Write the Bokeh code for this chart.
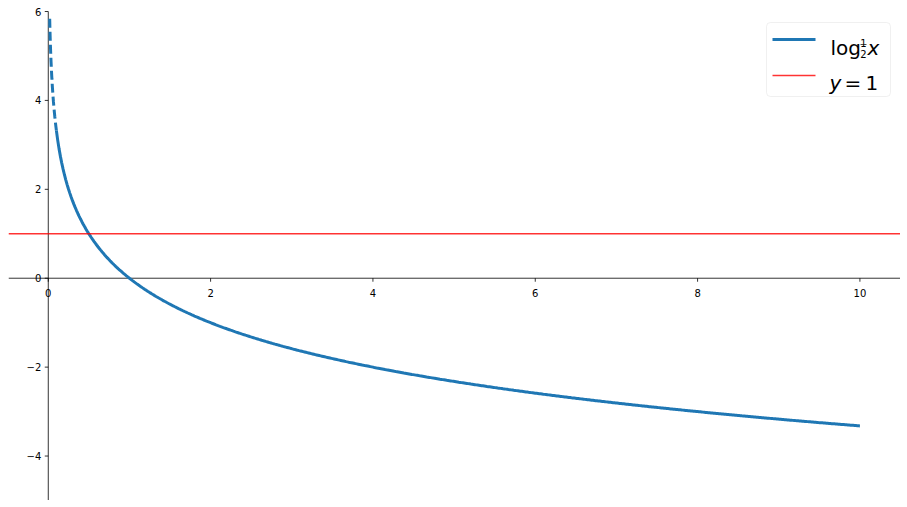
import numpy as np
from bokeh.plotting import figure
from bokeh.models import Range1d, Span, BoxAnnotation
from bokeh.core.properties import value
from bokeh.embed import file_html
from bokeh.resources import INLINE

# ---- data ----
log_base = 0.5
x_start = 0.0175
x_dash_end = 0.1
x_end = 10.0
hline_y = 1
x_ticks = [0, 2, 4, 6, 8, 10]
x_tick_labels = ["0", "2", "4", "6", "8", "10"]
y_ticks = [-4, -2, 0, 2, 4, 6]
y_tick_labels = ["\u22124", "\u22122", "0", "2", "4", "6"]
y_lo, y_hi = -5.0, 6.0

# ---- layout ----
LEFT = 8
AX_TOP = 11           # page px of the axes top (y = 6)
FW, FH_AX = 892, 489  # axes box size
X0, X1 = -0.49, 10.5
sx = FW / (X1 - X0)
sy = FH_AX / (y_hi - y_lo)
Y0 = y_lo
Y1 = y_hi + AX_TOP / sy   # extend frame to top of canvas so labels are not clipped
W, H = LEFT + FW, AX_TOP + FH_AX

def px2x(px):  # page px -> data x
    return X0 + (px - LEFT) / sx

def px2y(py):  # page px -> data y
    return Y1 - py / sy

p = figure(width=W, height=H, x_range=Range1d(X0, X1), y_range=Range1d(Y0, Y1),
           output_backend="svg", toolbar_location=None,
           x_axis_location=None, y_axis_location=None,
           min_border_left=LEFT, min_border_right=0, min_border_bottom=0, min_border_top=0)
p.grid.visible = False
p.outline_line_color = None
p.background_fill_color = "white"
p.border_fill_color = "white"

FONT = value("DejaVu Sans")

# spines at zero
p.add_layout(Span(location=0, dimension="width", line_color="black", line_width=0.8, level="underlay"))
p.segment(x0=[0], y0=[y_lo], x1=[0], y1=[y_hi], line_color="black", line_width=0.8)

# ticks
tlx = 3.5 / sx
tly = 3.5 / sy
p.segment(x0=x_ticks, y0=[0] * len(x_ticks), x1=x_ticks, y1=[-tly] * len(x_ticks),
          line_color="black", line_width=0.8)
p.segment(x0=[0] * len(y_ticks), y0=y_ticks, x1=[-tlx] * len(y_ticks), y1=y_ticks,
          line_color="black", line_width=0.8)

# tick labels
p.text(x=x_ticks, y=[-(15.0 / sy)] * len(x_ticks), text=x_tick_labels,
       text_font=FONT, text_font_size="10px", text_align="center",
       text_baseline="alphabetic", text_color="black")
p.text(x=[-(7.0 / sx)] * len(y_ticks), y=y_ticks, text=y_tick_labels,
       text_font=FONT, text_font_size="10px", text_align="right",
       text_baseline="middle", text_color="black")

# curve (clipped at the axes top)
xd = np.geomspace(x_start, x_dash_end, 40)
xs = np.linspace(x_dash_end, x_end, 600)
yd = np.log(xd) / np.log(log_base)
ys = np.log(xs) / np.log(log_base)
p.line(xd, yd, line_color="#1f77b4", line_width=3, line_dash="9 4")
p.line(xs, ys, line_color="#1f77b4", line_width=3)

# horizontal line
p.add_layout(Span(location=hline_y, dimension="width", line_color="red",
                  line_alpha=0.8, line_width=1.5))

# legend
p.add_layout(BoxAnnotation(left=px2x(766), right=px2x(890), top=px2y(22), bottom=px2y(96),
                           fill_color="white", fill_alpha=0.8, line_color="#cccccc",
                           line_width=1, border_radius=4, level="underlay"))
p.segment(x0=[px2x(772)], y0=[px2y(39)], x1=[px2x(815)], y1=[px2y(39)],
          line_color="#1f77b4", line_width=3)
p.segment(x0=[px2x(772)], y0=[px2y(75)], x1=[px2x(815)], y1=[px2y(75)],
          line_color="red", line_alpha=0.8, line_width=1.5)

# "log" + fraction + x
p.text(x=[px2x(830)], y=[px2y(47)], text=["log"], text_font=FONT, text_font_size="20px",
       text_baseline="alphabetic", text_align="left", text_color="black")
p.text(x=[px2x(863)], y=[px2y(42)], text=["1"], text_font=FONT, text_font_size="10px",
       text_baseline="alphabetic", text_align="center", text_color="black")
p.segment(x0=[px2x(860)], y0=[px2y(44)], x1=[px2x(866)], y1=[px2y(44)],
          line_color="black", line_width=0.7)
p.text(x=[px2x(863)], y=[px2y(53)], text=["2"], text_font=FONT, text_font_size="10px",
       text_baseline="alphabetic", text_align="center", text_color="black")
p.text(x=[px2x(867)], y=[px2y(47)], text=["x"], text_font=FONT, text_font_size="20px",
       text_font_style="italic", text_baseline="alphabetic", text_align="left", text_color="black")

# "y = 1"
p.text(x=[px2x(829)], y=[px2y(82)], text=["y"], text_font=FONT, text_font_size="20px",
       text_font_style="italic", text_baseline="alphabetic", text_align="left", text_color="black")
p.text(x=[px2x(844)], y=[px2y(82)], text=["="], text_font=FONT, text_font_size="20px",
       text_baseline="alphabetic", text_align="left", text_color="black")
p.text(x=[px2x(865)], y=[px2y(82)], text=["1"], text_font=FONT, text_font_size="20px",
       text_baseline="alphabetic", text_align="left", text_color="black")

open("out.html", "w").write(file_html(p, INLINE))
